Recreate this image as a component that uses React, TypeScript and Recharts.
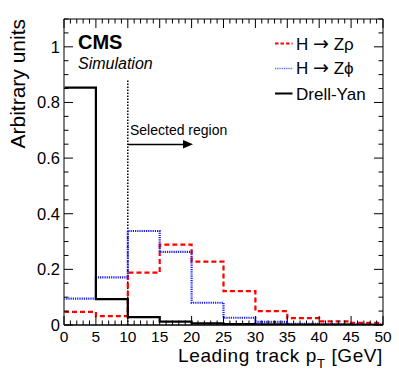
import React from "react";
import { ComposedChart, Line, XAxis, YAxis, ReferenceLine } from "recharts";

// Bin lower edges (GeV); last entry closes the final bin
const binEdges = [0, 5, 10, 15, 20, 25, 30, 35, 40, 45, 50];
// Normalized histogram contents per bin (10 bins)
const hZrho = [0.047, 0.032, 0.188, 0.289, 0.228, 0.122, 0.05, 0.025, 0.013, 0.008];
const hZphi = [0.095, 0.171, 0.338, 0.263, 0.08, 0.026, 0.011, 0.004, 0.002, 0.001];
const drellYan = [0.853, 0.093, 0.028, 0.012, 0.006, 0.003, 0.002, 0.001, 0.001, 0.0005];

const xMajorTicks = [0, 5, 10, 15, 20, 25, 30, 35, 40, 45, 50];
const xMajorLabels = ["0", "5", "10", "15", "20", "25", "30", "35", "40", "45", "50"];
const yMajorTicks = [0, 0.2, 0.4, 0.6, 0.8, 1];
const yMajorLabels = ["0", "0.2", "0.4", "0.6", "0.8", "1"];

const X_DOMAIN: [number, number] = [0, 50];
const Y_DOMAIN: [number, number] = [0, 1.1];
const X_MINOR_STEP = 1;
const Y_MINOR_STEP = 0.05;

const W = 399;
const H = 383;
const PLOT_LEFT = 64;
const PLOT_RIGHT = 383;
const PLOT_TOP = 19;
const PLOT_BOTTOM = 325;

const FONT = "'Liberation Sans', Arial, Helvetica, sans-serif";
const ARROW_FONT = "'DejaVu Sans', sans-serif";

const data = binEdges.map((x, i) => {
  const k = Math.min(i, hZrho.length - 1);
  return { x, rho: hZrho[k], phi: hZphi[k], dy: drellYan[k] };
});

const xTicks: number[] = [];
for (let i = 0; X_DOMAIN[0] + i * X_MINOR_STEP <= X_DOMAIN[1] + 1e-9; i++) {
  xTicks.push(+(X_DOMAIN[0] + i * X_MINOR_STEP).toFixed(4));
}
const yTicks: number[] = [];
for (let i = 0; Y_DOMAIN[0] + i * Y_MINOR_STEP <= Y_DOMAIN[1] + 1e-9; i++) {
  yTicks.push(+(Y_DOMAIN[0] + i * Y_MINOR_STEP).toFixed(4));
}

const isMajor = (v: number, majors: number[]) => majors.findIndex((m) => Math.abs(m - v) < 1e-6);

const XTick = (props: any) => {
  const { x, payload } = props;
  const idx = isMajor(payload.value, xMajorTicks);
  const len = idx >= 0 ? 9 : 4.5;
  return (
    <g>
      <line x1={x} x2={x} y1={PLOT_BOTTOM} y2={PLOT_BOTTOM - len} stroke="#000" strokeWidth={1} />
      <line x1={x} x2={x} y1={PLOT_TOP} y2={PLOT_TOP + len} stroke="#000" strokeWidth={1} />
      {idx >= 0 && (
        <text x={x} y={342} textAnchor="middle" fontSize={15.5} fontFamily={FONT} fill="#000">
          {xMajorLabels[idx]}
        </text>
      )}
    </g>
  );
};

const YTick = (props: any) => {
  const { y, payload } = props;
  const idx = isMajor(payload.value, yMajorTicks);
  const len = idx >= 0 ? 9 : 4.5;
  return (
    <g>
      <line x1={PLOT_LEFT} x2={PLOT_LEFT + len} y1={y} y2={y} stroke="#000" strokeWidth={1} />
      <line x1={PLOT_RIGHT} x2={PLOT_RIGHT - len} y1={y} y2={y} stroke="#000" strokeWidth={1} />
      {idx >= 0 && (
        <text x={60} y={y + 5.8} textAnchor="end" fontSize={16.5} fontFamily={FONT} fill="#000">
          {yMajorLabels[idx]}
        </text>
      )}
    </g>
  );
};

export default function App() {
  return (
    <div style={{ position: "absolute", left: 0, top: 0, width: W, height: H, background: "#fff" }}>
      <ComposedChart
        width={W}
        height={H}
        data={data}
        margin={{ top: 0, right: 0, bottom: 0, left: 0 }}
      >
        <XAxis
          xAxisId="b"
          dataKey="x"
          type="number"
          domain={X_DOMAIN}
          ticks={xTicks}
          interval={0}
          tickLine={false}
          tick={<XTick />}
          height={H - PLOT_BOTTOM}
          axisLine={{ stroke: "#000", strokeWidth: 1.5 }}
          allowDataOverflow
        />
        <XAxis
          xAxisId="t"
          orientation="top"
          dataKey="x"
          type="number"
          domain={X_DOMAIN}
          tick={false}
          tickLine={false}
          height={PLOT_TOP}
          axisLine={{ stroke: "#555", strokeWidth: 1.5 }}
        />
        <YAxis
          yAxisId="l"
          type="number"
          domain={Y_DOMAIN}
          ticks={yTicks}
          interval={0}
          tickLine={false}
          tick={<YTick />}
          width={PLOT_LEFT}
          axisLine={{ stroke: "#555", strokeWidth: 1.5 }}
          allowDataOverflow
        />
        <YAxis
          yAxisId="r"
          orientation="right"
          type="number"
          domain={Y_DOMAIN}
          tick={false}
          tickLine={false}
          width={W - PLOT_RIGHT}
          axisLine={{ stroke: "#555", strokeWidth: 1.5 }}
        />
        <ReferenceLine
          xAxisId="b"
          yAxisId="l"
          segment={[{ x: 10, y: 0 }, { x: 10, y: 0.88 }]}
          stroke="#000"
          strokeWidth={1.5}
          strokeDasharray="1.5 1.5"
          ifOverflow="visible"
        />
        <ReferenceLine
          xAxisId="b"
          yAxisId="l"
          segment={[{ x: 10.05, y: 0.649 }, { x: 19, y: 0.649 }]}
          stroke="#000"
          strokeWidth={1.5}
        />
        <Line xAxisId="b" yAxisId="l" type="stepAfter" dataKey="rho" stroke="#ff0000" strokeWidth={2.2}
          strokeDasharray="5 3" dot={false} isAnimationActive={false} />
        <Line xAxisId="b" yAxisId="l" type="stepAfter" dataKey="phi" stroke="#1a1aff" strokeWidth={2.2}
          strokeDasharray="1.2 1" dot={false} isAnimationActive={false} />
        <Line xAxisId="b" yAxisId="l" type="stepAfter" dataKey="dy" stroke="#000" strokeWidth={2.2}
          dot={false} isAnimationActive={false} />
      </ComposedChart>
      <svg width={W} height={H} style={{ position: "absolute", left: 0, top: 0, pointerEvents: "none" }}>
        {/* arrow head */}
        <polygon points="183,140 193,144.3 183,148.6" fill="#000" />
        <text x={130} y={135} fontSize={14} fontFamily={FONT} fill="#000">Selected region</text>
        <text x={78} y={48.5} fontSize={20} fontWeight="bold" fontFamily={FONT} fill="#000">CMS</text>
        <text x={78} y={69} fontSize={16} fontStyle="italic" fontFamily={FONT} fill="#000">Simulation</text>
        {/* legend */}
        <line x1={275} x2={292.5} y1={43.5} y2={43.5} stroke="#ff0000" strokeWidth={2} strokeDasharray="3.5 2" />
        <text x={296} y={49.5} fontSize={17} fontFamily={FONT} fill="#000">
          H <tspan fontFamily={ARROW_FONT} fontSize={19}>→</tspan> Zρ
        </text>
        <line x1={275} x2={292.5} y1={68.5} y2={68.5} stroke="#5566ff" strokeWidth={1.6} strokeDasharray="1 0.8" />
        <text x={296} y={74} fontSize={17} fontFamily={FONT} fill="#000">
          H <tspan fontFamily={ARROW_FONT} fontSize={19}>→</tspan> Zϕ
        </text>
        <line x1={275} x2={292.5} y1={93.5} y2={93.5} stroke="#000" strokeWidth={2} />
        <text x={296} y={99.5} fontSize={17} fontFamily={FONT} fill="#000">Drell-Yan</text>
        {/* axis titles */}
        <text x={383} y={362} textAnchor="end" fontSize={19} letterSpacing={0.6} fontFamily={FONT} fill="#000">
          Leading track p<tspan fontSize={13} dy={6}>T</tspan><tspan dy={-6}> [GeV]</tspan>
        </text>
        <text transform="translate(25,19) rotate(-90)" textAnchor="end" fontSize={21} fontFamily={FONT} fill="#000">
          Arbitrary units
        </text>
      </svg>
    </div>
  );
}
